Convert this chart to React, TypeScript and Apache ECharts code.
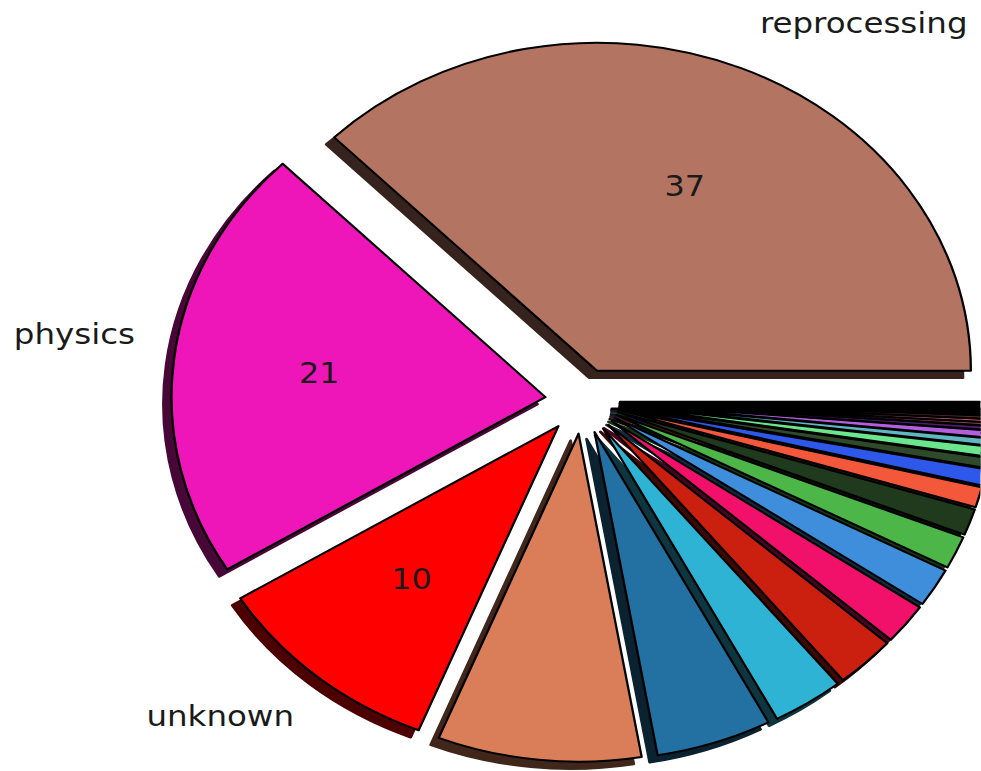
import React, { useEffect, useRef } from "react";
import * as echarts from "echarts";

// ---- data ----
const categories = [
  "reprocessing", "physics", "unknown",
  "", "", "", "", "", "", "", "", "", "", "", "", "", "", "", "", "", "", "",
];
const values = [
  37.4, 21.4, 10.1, 8.8, 5.0, 3.1, 2.6, 2.0, 1.9, 1.6, 1.3,
  1.0, 0.8, 0.5, 0.5, 0.35, 0.35, 0.2, 0.15, 0.15, 0.15, 0.65,
];
const sliceColors = [
  "#b47462", "#ee16b8", "#ff0000", "#da7d59", "#2371a2", "#2fb3d5",
  "#cb1f10", "#f1116b", "#3f8edb", "#4cb748", "#203a1e", "#f4583a",
  "#2d58ea", "#2e4a2b", "#6ae68c", "#5fb7c2", "#b25fdd", "#4a1f6e",
  "#a34a50", "#d4607a", "#5c3030", "#000000",
];
const PCT_MIN = 10; // only wedges of at least 10 % carry a number

// small text nudges for the outer name labels (matplotlib placement differs slightly)
const nameNudgeX = [0, 8, 7];
const nameNudgeY = [-6, -19, 7];

// ---- layout ----
const SX = 1.14; // the original pie is an ellipse (wider than tall)
const W = Math.floor(981 / SX);
const H = 771;
const CX = 511;
const CY = 401;
const R = 328;
const EXPLODE = 0.1 * R;
const SHADOW = 7;
const FONT = "DejaVu Sans";

function shade(hex: string): string {
  const n = parseInt(hex.slice(1), 16);
  const r = Math.round(((n >> 16) & 255) * 0.3);
  const g = Math.round(((n >> 8) & 255) * 0.3);
  const b = Math.round((n & 255) * 0.3);
  return `rgb(${r},${g},${b})`;
}

export default function App() {
  const ref = useRef<HTMLDivElement>(null);

  useEffect(() => {
    if (!ref.current) return;
    const chart = echarts.init(ref.current, null, { renderer: "svg" });

    const common = {
      type: "pie",
      startAngle: 0,
      clockwise: false,
      selectedMode: "multiple",
      selectedOffset: EXPLODE,
      avoidLabelOverlap: false,
      silent: true,
      minAngle: 0,
    };

    const shadowData = categories.map((name, i) => ({
      name,
      value: values[i],
      selected: true,
      itemStyle: { color: shade(sliceColors[i]), borderColor: shade(sliceColors[i]), borderWidth: 2.5 },
    }));
    const mainData = categories.map((name, i) => ({
      name,
      value: values[i],
      selected: true,
      itemStyle: { color: sliceColors[i], borderColor: "#000", borderWidth: 2 },
    }));
    const labelData = categories.map((name, i) => ({
      name,
      value: values[i],
      selected: true,
      itemStyle: { color: "rgba(0,0,0,0)", borderWidth: 0 },
    }));

    chart.setOption({
      animation: false,
      series: [
        {
          ...common,
          id: "shadow",
          z: 1,
          center: [CX - SHADOW, CY + SHADOW],
          radius: R,
          label: { show: false },
          labelLine: { show: false },
          data: shadowData,
        },
        {
          ...common,
          id: "wedges",
          z: 2,
          center: [CX, CY],
          radius: R,
          label: {
            show: true,
            position: "outside",
            formatter: (p: any) => p.name,
            fontFamily: FONT,
            fontSize: 28.5,
            color: "#1a1a1a",
            distanceToLabelLine: 0,
          },
          labelLine: { show: false, length: 0.13 * R, length2: 0 },
          labelLayout: (p: any) => ({
            dx: nameNudgeX[p.dataIndex] || 0,
            dy: nameNudgeY[p.dataIndex] || 0,
          }),
          data: mainData,
        },
        {
          ...common,
          id: "pct",
          z: 3,
          center: [CX, CY],
          radius: 1.2 * R,
          label: {
            show: true,
            position: "inner",
            formatter: (p: any) => (p.percent >= PCT_MIN ? String(Math.round(p.percent)) : ""),
            fontFamily: FONT,
            fontSize: 28,
            color: "#1a1a1a",
          },
          labelLine: { show: false },
          data: labelData,
        },
      ],
    });

    return () => chart.dispose();
  }, []);

  return (
    <div
      ref={ref}
      style={{
        position: "fixed",
        left: 0,
        top: 0,
        width: W,
        height: H,
        transform: `scaleX(${SX})`,
        transformOrigin: "0 0",
        background: "#fff",
      }}
    />
  );
}
